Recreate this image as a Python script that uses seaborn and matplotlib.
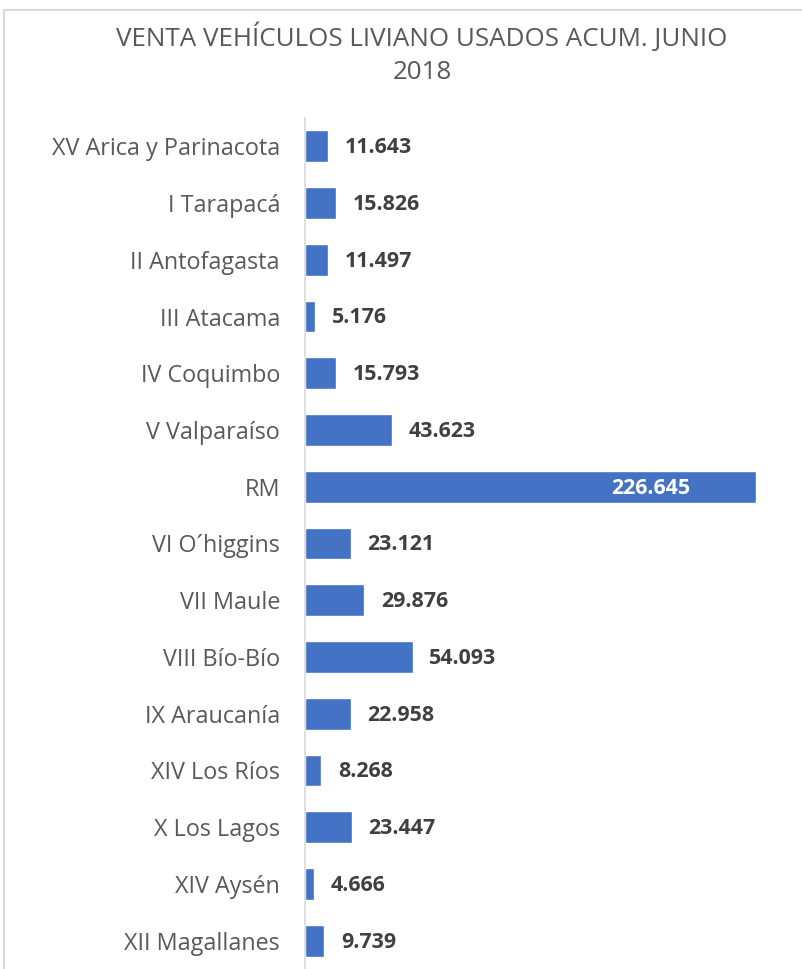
import matplotlib
matplotlib.use("Agg")
import matplotlib.pyplot as plt
import seaborn as sns
import pandas as pd
from matplotlib.patches import Rectangle

# Data
regiones = [
    "XV Arica y Parinacota", "I Tarapacá", "II Antofagasta", "III Atacama",
    "IV Coquimbo", "V Valparaíso", "RM", "VI O´higgins", "VII Maule",
    "VIII Bío-Bío", "IX Araucanía", "XIV Los Ríos", "X Los Lagos",
    "XIV Aysén", "XII Magallanes",
]
ventas = [11643, 15826, 11497, 5176, 15793, 43623, 226645, 23121, 29876,
          54093, 22958, 8268, 23447, 4666, 9739]

titulo = "VENTA VEHÍCULOS LIVIANO USADOS ACUM. JUNIO\n2018"

sns.set_theme(style="white")
plt.rcParams["font.family"] = ["Open Sans", "DejaVu Sans"]

df = pd.DataFrame({"region": regiones, "ventas": ventas})

W, H = 802, 969
fig = plt.figure(figsize=(W / 100, H / 100), dpi=100)
ax = fig.add_axes([305 / W, 0, (W - 305) / W, (H - 118) / H])

sns.barplot(data=df, y="region", x="ventas", orient="h", color="#4472C4",
            saturation=1, width=0.56, ax=ax)

ax.set_xlim(0, 250000)
ax.set_xlabel("")
ax.set_ylabel("")
ax.set_xticks([])
for s in ["top", "right", "bottom"]:
    ax.spines[s].set_visible(False)
ax.spines["left"].set_color("#D9D9D9")
ax.spines["left"].set_linewidth(1.2)
ax.tick_params(axis="y", length=0, pad=18, labelsize=16.8, labelcolor="#595959")

def fmt(v):
    return f"{v:,}".replace(",", ".")

for i, v in enumerate(ventas):
    if v == max(ventas):
        ax.annotate(fmt(v), (v, i), xytext=(-47, -1), textcoords="offset points",
                    ha="right", va="center", fontsize=15.4, fontweight="bold",
                    color="white")
    else:
        ax.annotate(fmt(v), (v, i), xytext=(12, -1), textcoords="offset points",
                    ha="left", va="center", fontsize=15.4, fontweight="bold",
                    color="#404040")

fig.text(422 / W, 1 - 54 / H, titulo, ha="center", va="center",
         fontsize=18.7, color="#595959", linespacing=1.4)

# light frame around the chart area (extends past the right and bottom edge)
fig.patches.append(Rectangle((4 / W, -0.1), 1.2, 1.1 - 10 / H, transform=fig.transFigure,
                             fill=False, edgecolor="#D9D9D9", linewidth=1.5))

fig.savefig("out.png", dpi=100)
